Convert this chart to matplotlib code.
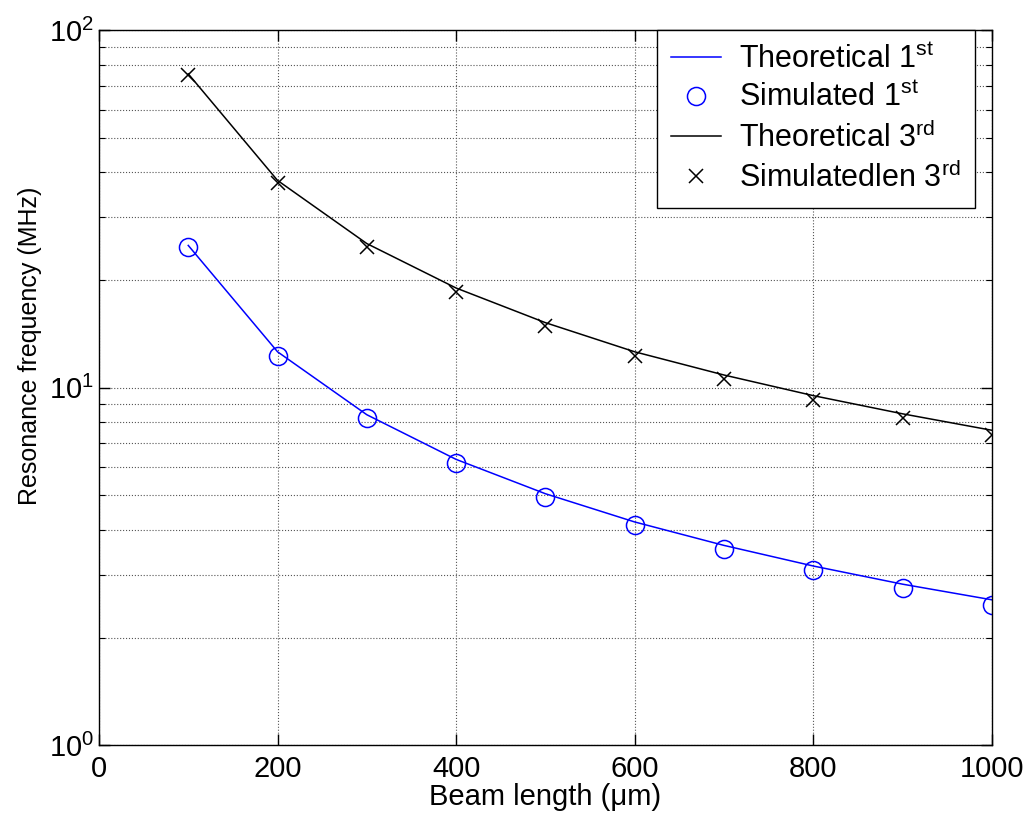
import matplotlib
matplotlib.use("Agg")
import matplotlib.pyplot as plt
from matplotlib.ticker import LogLocator, FixedLocator, NullFormatter

plt.rcParams['font.family'] = ['Liberation Sans', 'DejaVu Sans']
plt.rcParams['mathtext.fontset'] = 'custom'
plt.rcParams['mathtext.rm'] = 'Liberation Sans'
plt.rcParams['mathtext.it'] = 'Liberation Sans'

# beam lengths (um)
beam_length = [100, 200, 300, 400, 500, 600, 700, 800, 900, 1000]

# resonance frequencies (MHz)
theo_1st = [25.0, 12.6, 8.4, 6.3, 5.05, 4.21, 3.62, 3.17, 2.82, 2.55]
sim_1st = [24.7, 12.3, 8.21, 6.15, 4.94, 4.12, 3.53, 3.09, 2.75, 2.46]
theo_3rd = [75.5, 38.0, 25.3, 19.0, 15.2, 12.6, 10.85, 9.5, 8.45, 7.6]
sim_3rd = [74.8, 37.3, 24.8, 18.5, 14.9, 12.3, 10.6, 9.23, 8.22, 7.37]

x_ticks = [0, 200, 400, 600, 800, 1000]

fig = plt.figure(figsize=(10.31, 8.17), dpi=100)
ax = fig.add_axes([0.096, 0.088, 0.866, 0.875])

ax.plot(beam_length, theo_1st, color='blue', lw=1.1, label='Theoretical 1$^{\\mathrm{st}}$')
ax.plot(beam_length, sim_1st, 'o', mfc='none', mec='blue', ms=13, mew=1.1,
        label='Simulated 1$^{\\mathrm{st}}$')
ax.plot(beam_length, theo_3rd, color='black', lw=1.1, label='Theoretical 3$^{\\mathrm{rd}}$')
ax.plot(beam_length, sim_3rd, 'x', color='black', ms=10, mew=1.1,
        label='Simulatedlen 3$^{\\mathrm{rd}}$')

ax.set_yscale('log')
ax.set_xlim(0, 1000)
ax.set_ylim(1, 100)
ax.xaxis.set_major_locator(FixedLocator(x_ticks))
ax.yaxis.set_major_locator(LogLocator(base=10, numticks=5))
ax.yaxis.set_minor_locator(LogLocator(base=10, subs=range(2, 10), numticks=20))
ax.yaxis.set_minor_formatter(NullFormatter())

# grid: vertical at x ticks, horizontal at every log tick
ax.grid(True, which='major', axis='x', ls=':', color='#555555', lw=0.8)
ax.grid(True, which='both', axis='y', ls=':', color='#555555', lw=0.8)
ax.set_axisbelow(True)

ax.tick_params(which='both', direction='in', top=True, right=True, labelsize=21)
ax.tick_params(which='major', length=8, width=1)
ax.tick_params(which='minor', length=4, width=0.8)
ax.tick_params(axis='x', pad=7)
for s in ax.spines.values():
    s.set_linewidth(1.0)

ax.set_xlabel('Beam length (μm)', fontsize=21, labelpad=0)
ax.set_ylabel('Resonance frequency (MHz)', fontsize=18)
ax.yaxis.set_label_coords(-0.064, 0.559)

leg = ax.legend(loc='upper right', bbox_to_anchor=(0.981, 1.0), borderaxespad=0,
                fontsize=22, fancybox=False, framealpha=1, edgecolor='black',
                handlelength=1.65, handletextpad=0.6, labelspacing=0.27, borderpad=0.45)
leg.get_frame().set_linewidth(1.0)

plt.savefig('out.png', dpi=100)
